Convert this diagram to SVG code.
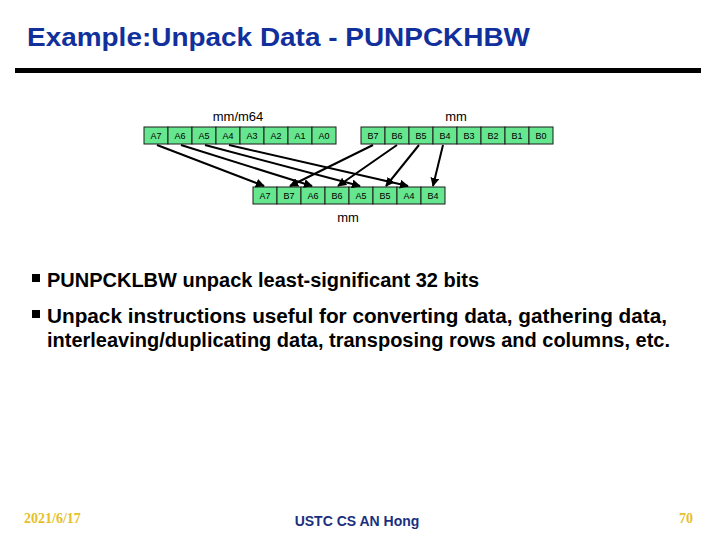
<svg xmlns="http://www.w3.org/2000/svg" width="720" height="540" viewBox="0 0 720 540">
<style>
.t{font-family:"Liberation Sans",Arial,sans-serif}
.title{font-size:26px;font-weight:bold;fill:#12309c}
.cell rect{fill:#66e68e;stroke:#1a1a1a;stroke-width:1}
.cell text{font-family:"Liberation Sans",Arial,sans-serif;font-size:9px;fill:#000;text-anchor:middle}
.lbl{font-size:13px;fill:#000;text-anchor:middle}
.bul{font-size:20px;font-weight:bold;fill:#000}
.conn line{stroke:#000;stroke-width:2;marker-end:url(#ah)}
.ser{font-family:"Liberation Serif","Times New Roman",serif;font-size:14px;font-weight:bold;fill:#e6c02a}
</style>
<defs>
<marker id="ah" viewBox="0 0 10 10" refX="9" refY="5" markerWidth="4.5" markerHeight="4.5" orient="auto" markerUnits="strokeWidth">
<path d="M0,0 L10,5 L0,10 z" fill="#000"/>
</marker>
</defs>
<rect width="720" height="540" fill="#fff"/>
<text class="t title" x="27" y="46" textLength="503" lengthAdjust="spacingAndGlyphs">Example:Unpack Data - PUNPCKHBW</text>
<rect x="15" y="68" width="686" height="5" fill="#000"/>

<text class="t lbl" x="238" y="121">mm/m64</text>
<text class="t lbl" x="456" y="121">mm</text>
<text class="t lbl" x="348" y="222">mm</text>

<g id="src-a" class="cell">
<rect x="144" y="127" width="24" height="17"/><text x="156" y="139">A7</text>
<rect x="168" y="127" width="24" height="17"/><text x="180" y="139">A6</text>
<rect x="192" y="127" width="24" height="17"/><text x="204" y="139">A5</text>
<rect x="216" y="127" width="24" height="17"/><text x="228" y="139">A4</text>
<rect x="240" y="127" width="24" height="17"/><text x="252" y="139">A3</text>
<rect x="264" y="127" width="24" height="17"/><text x="276" y="139">A2</text>
<rect x="288" y="127" width="24" height="17"/><text x="300" y="139">A1</text>
<rect x="312" y="127" width="24" height="17"/><text x="324" y="139">A0</text>
</g>
<g id="src-b" class="cell">
<rect x="361" y="127" width="24" height="17"/><text x="373" y="139">B7</text>
<rect x="385" y="127" width="24" height="17"/><text x="397" y="139">B6</text>
<rect x="409" y="127" width="24" height="17"/><text x="421" y="139">B5</text>
<rect x="433" y="127" width="24" height="17"/><text x="445" y="139">B4</text>
<rect x="457" y="127" width="24" height="17"/><text x="469" y="139">B3</text>
<rect x="481" y="127" width="24" height="17"/><text x="493" y="139">B2</text>
<rect x="505" y="127" width="24" height="17"/><text x="517" y="139">B1</text>
<rect x="529" y="127" width="24" height="17"/><text x="541" y="139">B0</text>
</g>
<g id="dest" class="cell">
<rect x="253" y="187" width="24" height="17"/><text x="265" y="199">A7</text>
<rect x="277" y="187" width="24" height="17"/><text x="289" y="199">B7</text>
<rect x="301" y="187" width="24" height="17"/><text x="313" y="199">A6</text>
<rect x="325" y="187" width="24" height="17"/><text x="337" y="199">B6</text>
<rect x="349" y="187" width="24" height="17"/><text x="361" y="199">A5</text>
<rect x="373" y="187" width="24" height="17"/><text x="385" y="199">B5</text>
<rect x="397" y="187" width="24" height="17"/><text x="409" y="199">A4</text>
<rect x="421" y="187" width="24" height="17"/><text x="433" y="199">B4</text>
</g>
<g id="connectors" class="conn">
<line x1="157" y1="145" x2="264" y2="186"/>
<line x1="181" y1="145" x2="312" y2="186"/>
<line x1="205" y1="145" x2="360" y2="186"/>
<line x1="229" y1="145" x2="408" y2="186"/>
<line x1="373" y1="145" x2="290" y2="186"/>
<line x1="397" y1="145" x2="338" y2="186"/>
<line x1="419" y1="145" x2="386" y2="186"/>
<line x1="443" y1="145" x2="433" y2="186"/>
</g>

<rect x="32" y="274" width="8" height="8" fill="#000"/>
<text class="t bul" x="47" y="287" textLength="432" lengthAdjust="spacingAndGlyphs">PUNPCKLBW unpack least-significant 32 bits</text>
<rect x="32" y="310" width="8" height="8" fill="#000"/>
<text class="t bul" x="47" y="323" textLength="620" lengthAdjust="spacingAndGlyphs">Unpack instructions useful for converting data, gathering data,</text>
<text class="t bul" x="47" y="347" textLength="623" lengthAdjust="spacingAndGlyphs">interleaving/duplicating data, transposing rows and columns, etc.</text>

<text class="ser" x="24" y="523">2021/6/17</text>
<text class="t" x="357" y="526" font-size="14" font-weight="bold" fill="#1a2f80" text-anchor="middle">USTC CS AN Hong</text>
<text class="ser" x="679" y="523">70</text>
</svg>
